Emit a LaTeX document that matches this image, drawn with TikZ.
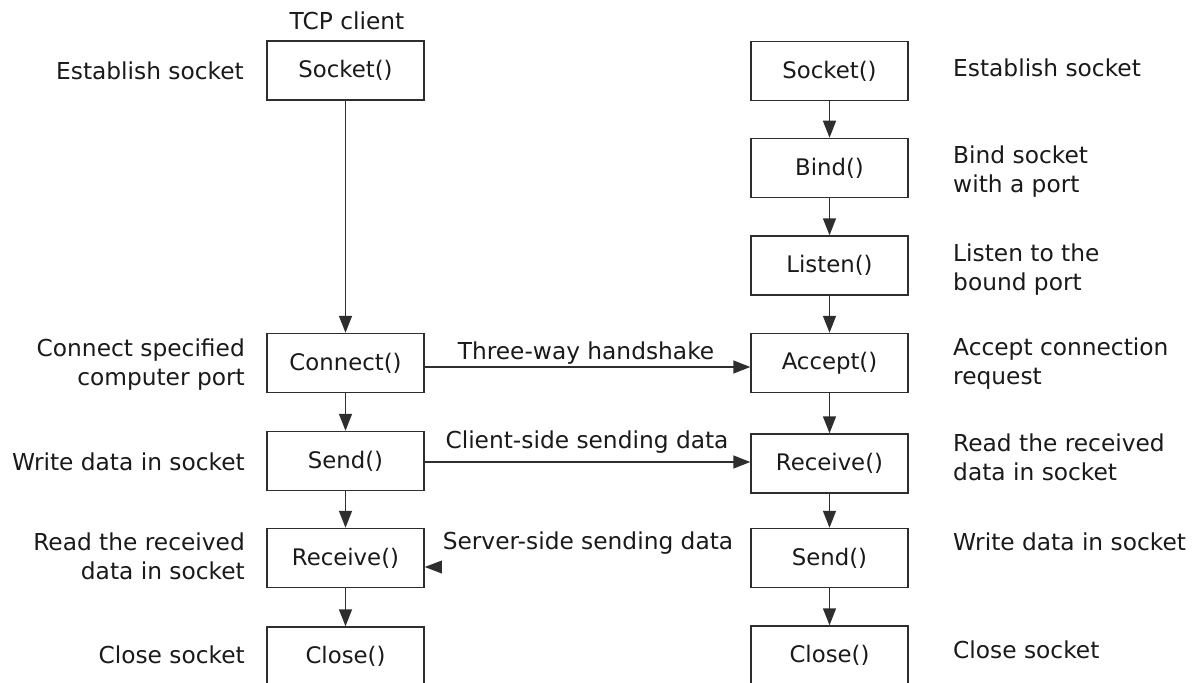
\documentclass[tikz,border=0pt]{standalone}
\usepackage{fontspec}
\setmainfont{DejaVu Sans}
\usetikzlibrary{arrows.meta}
\definecolor{ink}{HTML}{1A1A1A}
\definecolor{edge}{HTML}{2E2E2E}
\begin{document}
\begin{tikzpicture}[x=1pt,y=-1pt,
  box/.style={draw=edge,line width=1.5pt,fill=white,minimum width=157pt,minimum height=59pt,inner sep=0pt,text=ink,font=\fontsize{22.8}{28.5}\selectfont},
  lbl/.style={inner sep=0pt,text=ink,font=\fontsize{23.3}{28.5}\selectfont},
  lleft/.style={lbl,anchor=north east,align=right},
  lright/.style={lbl,anchor=north west,align=left},
  arr/.style={draw=edge,line width=1.5pt,-{Triangle[length=17pt,width=13pt]}}]
\clip (0,0) rectangle (1198,682);
\fill[white] (0,0) rectangle (1198,682);

% client column
\node[lbl,anchor=north] (title) at (347,12) {TCP client};
\node[box] (sockL) at (345.5,70.5) {Socket()};
\node[box] (conn) at (345.5,363) {Connect()};
\node[box] (sendL) at (345.5,461) {Send()};
\node[box] (recvL) at (345.5,558) {Receive()};
\node[box] (closeL) at (345.5,656.5) {Close()};

% server column
\node[box] (sockR) at (829.5,71) {Socket()};
\node[box] (bind) at (829.5,168) {Bind()};
\node[box] (listen) at (829.5,265.5) {Listen()};
\node[box] (acc) at (829.5,363) {Accept()};
\node[box] (recvR) at (829.5,463.5) {Receive()};
\node[box] (sendR) at (829.5,558) {Send()};
\node[box] (closeR) at (829.5,655.5) {Close()};

% left labels
\node[lleft] (l1) at (244,62) {Establish socket};
\node[lleft] (l2) at (245,339) {Connect specified\\computer port};
\node[lleft] (l3) at (245,453) {Write data in socket};
\node[lleft] (l4) at (245,533) {Read the received\\data in socket};
\node[lleft] (l5) at (245,646) {Close socket};

% right labels
\node[lright] (r1) at (953,59) {Establish socket};
\node[lright] (r2) at (953,146) {Bind socket\\with a port};
\node[lright] (r3) at (953,244) {Listen to the\\bound port};
\node[lright] (r4) at (953,338) {Accept connection\\request};
\node[lright] (r5) at (953,434) {Read the received\\data in socket};
\node[lright] (r6) at (953,533) {Write data in socket};
\node[lright] (r7) at (953,641) {Close socket};

% vertical arrows
\draw[arr] (sockL) -- (conn);
\draw[arr] (conn) -- (sendL);
\draw[arr] (sendL) -- (recvL);
\draw[arr] (recvL) -- (closeL);
\draw[arr] (sockR) -- (bind);
\draw[arr] (bind) -- (listen);
\draw[arr] (listen) -- (acc);
\draw[arr] (acc) -- (recvR);
\draw[arr] (recvR) -- (sendR);
\draw[arr] (sendR) -- (closeR);

% horizontal arrows
\draw[arr] ([yshift=-4pt]conn.east) -- ([yshift=-4pt]conn.east -| acc.west);
\draw[arr] ([yshift=-1pt]sendL.east) -- ([yshift=-1pt]sendL.east -| recvR.west);
\fill[edge] ([yshift=-9pt]recvL.east) -- ++(17,-6.5) -- ++(0,13) -- cycle;

% arrow labels
\node[lbl,anchor=north] (t1) at (586,342) {Three-way handshake};
\node[lbl,anchor=north] (t2) at (587,431) {Client-side sending data};
\node[lbl,anchor=north] (t3) at (588,532) {Server-side sending data};
\end{tikzpicture}
\end{document}
